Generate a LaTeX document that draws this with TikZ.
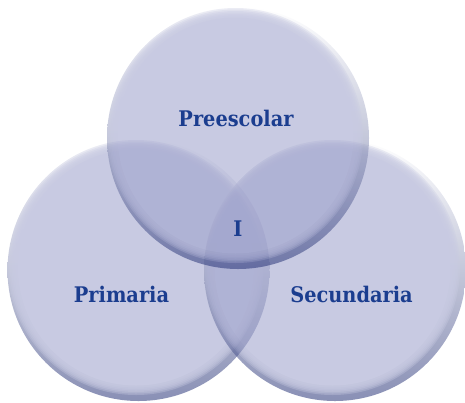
\documentclass[tikz,border=0pt]{standalone}
\usepackage{fontspec}
\newfontfamily\lblfont[FakeStretch=0.9]{DejaVu Serif}
\definecolor{base}{RGB}{155,159,202}
\definecolor{rimdark}{RGB}{40,52,120}
\definecolor{rimlight}{RGB}{255,255,255}
\definecolor{txt}{RGB}{27,61,143}
\tikzset{lbl/.style={text=txt, font=\lblfont\bfseries\fontsize{21.5}{25}\selectfont}}
\newcommand\mybubble[2]{%
 \begin{scope}[transparency group, opacity=0.55]
  \clip (#1,#2) circle[radius=131];
  \shade[shading angle=45, top color=rimlight, middle color=base, bottom color=rimdark] (#1-131,#2-131) rectangle (#1+131,#2+131);
  \foreach \k in {0,...,5} {\fill[base, opacity=0.35] (#1-2.5,#2-2.5) circle[radius=131-3.5-\k*1.5];}
  \fill[base] (#1-2.5,#2-2.5) circle[radius=131-13];
 \end{scope}}
\begin{document}
\begin{tikzpicture}[x=1pt,y=-1pt]
\useasboundingbox (0,0) rectangle (465,402);
\mybubble{138.5}{270}
\mybubble{335}{270}
\mybubble{238}{138}
\node[lbl] (pre) at (236,118) {Preescolar};
\node[lbl] (pri) at (121.5,294) {Primaria};
\node[lbl] (sec) at (351.5,294) {Secundaria};
\node[lbl] (i) at (238,229) {I};
\end{tikzpicture}
\end{document}
